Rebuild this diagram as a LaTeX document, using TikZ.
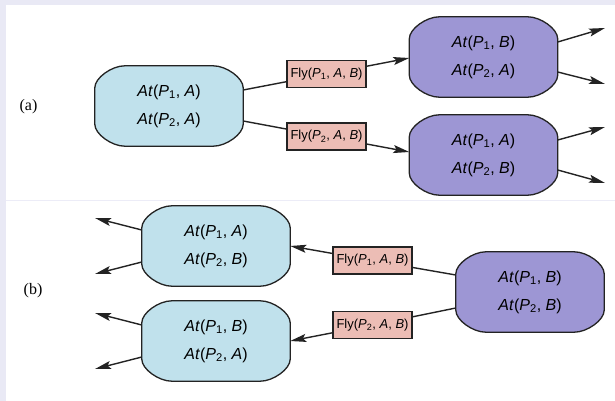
\documentclass[tikz,border=0pt]{standalone}
\usepackage{fontspec}
\setmainfont{Liberation Serif}
\newfontfamily\helv{Liberation Sans}
\usetikzlibrary{arrows.meta}

\definecolor{framecol}{HTML}{E9E9F5}
\definecolor{rulecol}{HTML}{ECECF7}
\definecolor{stateblue}{HTML}{C0E1EC}
\definecolor{statepurple}{HTML}{9D96D4}
\definecolor{actfill}{HTML}{ECBDB5}
\definecolor{ink}{HTML}{232323}

\pgfdeclarelayer{framelayer}
\pgfdeclarelayer{shapelayer}
\pgfsetlayers{framelayer,shapelayer,main}

% fluent At(P_i, X) and action Fly(P_i, A, B)
\newcommand\atom[2]{\textit{At}(\textit{P}\textsubscript{#1}, \textit{#2})}
\newcommand\flyact[1]{Fly(\textit{P}\textsubscript{#1}, \textit{A}, \textit{B})}

% outline of a state box: rectangle with wide, flattened corners, behind the text
\newcommand\stateshape[2]{%
  \begin{pgfonlayer}{shapelayer}
    \filldraw[fill=#2, draw=ink, line width=1.3pt]
      ([xshift=30pt]#1.north west) -- ([xshift=-30pt]#1.north east)
      .. controls ([xshift=-17pt]#1.north east) and ([yshift=-12pt]#1.north east)
      .. ([yshift=-22pt]#1.north east)
      -- ([yshift=22pt]#1.south east)
      .. controls ([yshift=12pt]#1.south east) and ([xshift=-17pt]#1.south east)
      .. ([xshift=-30pt]#1.south east)
      -- ([xshift=30pt]#1.south west)
      .. controls ([xshift=17pt]#1.south west) and ([yshift=12pt]#1.south west)
      .. ([yshift=22pt]#1.south west)
      -- ([yshift=-22pt]#1.north west)
      .. controls ([yshift=-12pt]#1.north west) and ([xshift=17pt]#1.north west)
      .. ([xshift=30pt]#1.north west)
      -- cycle;
  \end{pgfonlayer}}

\begin{document}
\begin{tikzpicture}[x=1pt,y=-1pt,
  state/.style={rectangle, minimum width=148pt, minimum height=80pt,
    inner sep=0pt, align=center, font=\helv\fontsize{16}{28}\selectfont},
  act/.style={rectangle, draw=ink, fill=actfill, line width=1.1pt,
    minimum width=79pt, minimum height=27pt, inner sep=0pt,
    font=\helv\fontsize{13}{15}\selectfont},
  tag/.style={inner sep=0pt, font=\fontsize{16}{18}\selectfont},
  edge/.style={draw=ink, line width=1.4pt},
  arr/.style={-{Stealth[length=16pt,width=8pt,inset=3pt]}}]

% frame and the two panels
\begin{pgfonlayer}{framelayer}
  \fill[framecol] (0,0) rectangle (615,401);
  \fill[white] (6,5) rectangle (615,199.5);
  \fill[white] (6,200.5) rectangle (615,401);
  \fill[rulecol] (6,199.5) rectangle (615,200.5);
\end{pgfonlayer}
\useasboundingbox (0,0) rectangle (615,401);

% (a) forward search
\node[tag] (la) at (28.5,107) {(a)};
\node[state] (A1) at (169,106)   {\atom{1}{A}\\\atom{2}{A}};
\node[state] (B1) at (483.5,57)  {\atom{1}{B}\\\atom{2}{A}};
\node[state] (B2) at (483.5,155) {\atom{1}{A}\\\atom{2}{B}};
\stateshape{A1}{stateblue}
\stateshape{B1}{statepurple}
\stateshape{B2}{statepurple}
\node[act] (F1) at (326.5,74)    {\flyact{1}};
\node[act] (F2) at (326.5,136.5) {\flyact{2}};

\draw[edge] ([yshift=16pt]A1.east) -- (F1);
\draw[edge,arr] (F1) -- ([yshift=-1pt]B1.west);
\draw[edge] ([yshift=-15pt]A1.east) -- (F2);
\draw[edge,arr] (F2) -- ([yshift=3pt]B2.west);

\coordinate (o1) at (605,28);
\coordinate (o2) at (605,84);
\coordinate (o3) at (605,127);
\coordinate (o4) at (605,183);
\draw[edge,arr] ([yshift=15pt]B1.east) -- (o1);
\draw[edge,arr] ([yshift=-15pt]B1.east) -- (o2);
\draw[edge,arr] ([yshift=15pt]B2.east) -- (o3);
\draw[edge,arr] ([yshift=-15pt]B2.east) -- (o4);

% (b) backward search
\node[tag] (lb) at (33,291) {(b)};
\node[state] (C)  at (530,292) {\atom{1}{B}\\\atom{2}{B}};
\node[state] (D1) at (216,246) {\atom{1}{A}\\\atom{2}{B}};
\node[state] (D2) at (216,341) {\atom{1}{B}\\\atom{2}{A}};
\stateshape{C}{statepurple}
\stateshape{D1}{stateblue}
\stateshape{D2}{stateblue}
\node[act] (F3) at (372.5,260.5) {\flyact{1}};
\node[act] (F4) at (372.5,325)   {\flyact{2}};

\draw[edge] ([yshift=17pt]C.west) -- (F3);
\draw[edge,arr] (F3) -- (D1.east);
\draw[edge] ([yshift=-16pt]C.west) -- (F4);
\draw[edge,arr] (F4) -- (D2.east);

\coordinate (i1) at (95,218);
\coordinate (i2) at (95,274);
\coordinate (i3) at (95,313);
\coordinate (i4) at (95,369);
\draw[edge,arr] ([yshift=16pt]D1.west) -- (i1);
\draw[edge,arr] ([yshift=-16pt]D1.west) -- (i2);
\draw[edge,arr] ([yshift=16pt]D2.west) -- (i3);
\draw[edge,arr] ([yshift=-16pt]D2.west) -- (i4);

\end{tikzpicture}
\end{document}
